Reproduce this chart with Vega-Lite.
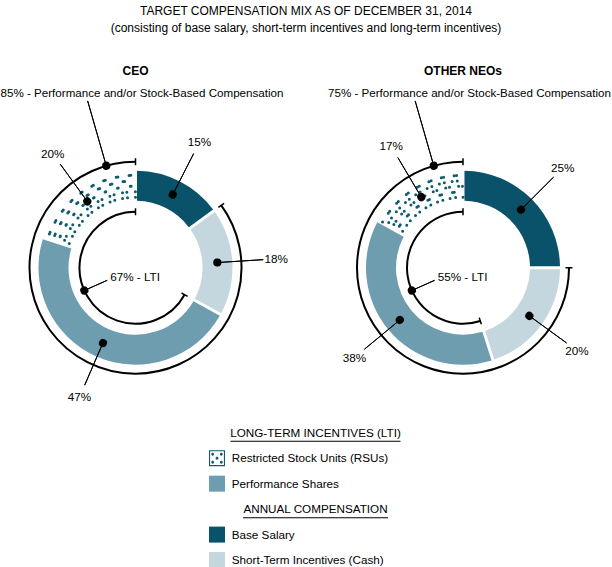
{
  "$schema": "https://vega.github.io/schema/vega-lite/v6.json",
  "padding": {"left": 0, "right": 0, "top": 5, "bottom": 0},
  "autosize": {"type": "pad"},
  "title": {
    "text": "TARGET COMPENSATION MIX AS OF DECEMBER 31, 2014",
    "subtitle": "(consisting of base salary, short-term incentives and long-term incentives)",
    "anchor": "middle",
    "offset": 30,
    "subtitlePadding": 5
  },
  "spacing": 0,
  "vconcat": [
    {
      "data": {
        "values": [
          {"chart": "CEO", "kind": "segment", "seq": 1, "category": "Base Salary", "share": 0.15},
          {"chart": "CEO", "kind": "segment", "seq": 2, "category": "Short-Term Incentives (Cash)", "share": 0.18},
          {"chart": "CEO", "kind": "segment", "seq": 3, "category": "Performance Shares", "share": 0.47},
          {"chart": "CEO", "kind": "segment", "seq": 4, "category": "Restricted Stock Units (RSUs)", "share": 0.20},
          {"chart": "OTHER NEOs", "kind": "segment", "seq": 1, "category": "Base Salary", "share": 0.25},
          {"chart": "OTHER NEOs", "kind": "segment", "seq": 2, "category": "Short-Term Incentives (Cash)", "share": 0.20},
          {"chart": "OTHER NEOs", "kind": "segment", "seq": 3, "category": "Performance Shares", "share": 0.38},
          {"chart": "OTHER NEOs", "kind": "segment", "seq": 4, "category": "Restricted Stock Units (RSUs)", "share": 0.17},
          {"chart": "CEO", "kind": "outer", "start": 0.15, "end": 1, "label": "85% - Performance and/or Stock-Based Compensation"},
          {"chart": "CEO", "kind": "inner", "start": 0.33, "end": 1, "label": "67% - LTI"},
          {"chart": "OTHER NEOs", "kind": "outer", "start": 0.25, "end": 1, "label": "75% - Performance and/or Stock-Based Compensation"},
          {"chart": "OTHER NEOs", "kind": "inner", "start": 0.45, "end": 1, "label": "55% - LTI"}
        ]
      },
      "facet": {"column": {"field": "chart", "type": "nominal", "header": null}},
      "spacing": 56.5,
      "bounds": "flush",
      "spec": {
        "width": 271,
        "height": 303.4,
        "layer": [
          {
            "transform": [{"filter": "datum.kind === 'segment'"}],
            "mark": {"type": "arc", "innerRadius": 67, "outerRadius": 97, "padAngle": 0.025},
            "encoding": {
              "theta": {"field": "share", "type": "quantitative", "stack": true, "scale": {"domain": [0, 1]}},
              "order": {"field": "seq", "type": "quantitative"},
              "color": {"field": "category", "type": "nominal", "legend": null,
                "scale": {"domain": ["Base Salary", "Short-Term Incentives (Cash)", "Performance Shares", "Restricted Stock Units (RSUs)"],
                          "range": ["#0a5269", "#c4d7de", "#6f9db0", "#ffffff"]}}
            }
          },
          {
            "transform": [{"filter": "datum.kind === 'segment'"}],
            "mark": {"type": "arc", "innerRadius": 70.5, "outerRadius": 70.5, "filled": false, "stroke": "#0e5a6e", "strokeWidth": 3, "strokeDash": [0, 13], "strokeDashOffset": 0, "strokeCap": "round"},
            "encoding": {
              "theta": {"field": "share", "type": "quantitative", "stack": true, "scale": {"domain": [0, 1]}},
              "order": {"field": "seq", "type": "quantitative"},
              "detail": {"field": "category", "type": "nominal"},
              "strokeOpacity": {"condition": {"test": "datum.category === 'Restricted Stock Units (RSUs)'", "value": 1}, "value": 0}
            }
          },
          {
            "transform": [{"filter": "datum.kind === 'segment'"}],
            "mark": {"type": "arc", "innerRadius": 76, "outerRadius": 76, "filled": false, "stroke": "#0e5a6e", "strokeWidth": 3, "strokeDash": [0, 13], "strokeDashOffset": 4.3, "strokeCap": "round"},
            "encoding": {
              "theta": {"field": "share", "type": "quantitative", "stack": true, "scale": {"domain": [0, 1]}},
              "order": {"field": "seq", "type": "quantitative"},
              "detail": {"field": "category", "type": "nominal"},
              "strokeOpacity": {"condition": {"test": "datum.category === 'Restricted Stock Units (RSUs)'", "value": 1}, "value": 0}
            }
          },
          {
            "transform": [{"filter": "datum.kind === 'segment'"}],
            "mark": {"type": "arc", "innerRadius": 81.5, "outerRadius": 81.5, "filled": false, "stroke": "#0e5a6e", "strokeWidth": 3, "strokeDash": [0, 13], "strokeDashOffset": 8.6, "strokeCap": "round"},
            "encoding": {
              "theta": {"field": "share", "type": "quantitative", "stack": true, "scale": {"domain": [0, 1]}},
              "order": {"field": "seq", "type": "quantitative"},
              "detail": {"field": "category", "type": "nominal"},
              "strokeOpacity": {"condition": {"test": "datum.category === 'Restricted Stock Units (RSUs)'", "value": 1}, "value": 0}
            }
          },
          {
            "transform": [{"filter": "datum.kind === 'segment'"}],
            "mark": {"type": "arc", "innerRadius": 87, "outerRadius": 87, "filled": false, "stroke": "#0e5a6e", "strokeWidth": 3, "strokeDash": [0, 13], "strokeDashOffset": 2.1, "strokeCap": "round"},
            "encoding": {
              "theta": {"field": "share", "type": "quantitative", "stack": true, "scale": {"domain": [0, 1]}},
              "order": {"field": "seq", "type": "quantitative"},
              "detail": {"field": "category", "type": "nominal"},
              "strokeOpacity": {"condition": {"test": "datum.category === 'Restricted Stock Units (RSUs)'", "value": 1}, "value": 0}
            }
          },
          {
            "transform": [{"filter": "datum.kind === 'segment'"}],
            "mark": {"type": "arc", "innerRadius": 92.5, "outerRadius": 92.5, "filled": false, "stroke": "#0e5a6e", "strokeWidth": 3, "strokeDash": [0, 13], "strokeDashOffset": 6.5, "strokeCap": "round"},
            "encoding": {
              "theta": {"field": "share", "type": "quantitative", "stack": true, "scale": {"domain": [0, 1]}},
              "order": {"field": "seq", "type": "quantitative"},
              "detail": {"field": "category", "type": "nominal"},
              "strokeOpacity": {"condition": {"test": "datum.category === 'Restricted Stock Units (RSUs)'", "value": 1}, "value": 0}
            }
          },
          {
            "transform": [{"filter": "datum.kind === 'outer'"}],
            "mark": {"type": "arc", "innerRadius": 106, "outerRadius": 106, "filled": false, "stroke": "black", "strokeWidth": 2},
            "encoding": {
              "theta": {"field": "start", "type": "quantitative", "stack": null, "scale": {"domain": [0, 1]}},
              "theta2": {"field": "end"}
            }
          },
          {
            "transform": [{"filter": "datum.kind === 'outer'"}],
            "mark": {"type": "arc", "innerRadius": 102.5, "outerRadius": 109.5, "filled": false, "stroke": "black", "strokeWidth": 1.5},
            "encoding": {
              "theta": {"field": "start", "type": "quantitative", "stack": null, "scale": {"domain": [0, 1]}},
              "theta2": {"field": "start"}
            }
          },
          {
            "transform": [{"filter": "datum.kind === 'outer'"}],
            "mark": {"type": "arc", "innerRadius": 102.5, "outerRadius": 109.5, "filled": false, "stroke": "black", "strokeWidth": 1.5},
            "encoding": {
              "theta": {"field": "end", "type": "quantitative", "stack": null, "scale": {"domain": [0, 1]}},
              "theta2": {"field": "end"}
            }
          },
          {
            "transform": [{"filter": "datum.kind === 'inner'"}],
            "mark": {"type": "arc", "innerRadius": 56, "outerRadius": 56, "filled": false, "stroke": "black", "strokeWidth": 2},
            "encoding": {
              "theta": {"field": "start", "type": "quantitative", "stack": null, "scale": {"domain": [0, 1]}},
              "theta2": {"field": "end"}
            }
          },
          {
            "transform": [{"filter": "datum.kind === 'inner'"}],
            "mark": {"type": "arc", "innerRadius": 52.5, "outerRadius": 59.5, "filled": false, "stroke": "black", "strokeWidth": 1.5},
            "encoding": {
              "theta": {"field": "start", "type": "quantitative", "stack": null, "scale": {"domain": [0, 1]}},
              "theta2": {"field": "start"}
            }
          },
          {
            "transform": [{"filter": "datum.kind === 'inner'"}],
            "mark": {"type": "arc", "innerRadius": 52.5, "outerRadius": 59.5, "filled": false, "stroke": "black", "strokeWidth": 1.5},
            "encoding": {
              "theta": {"field": "end", "type": "quantitative", "stack": null, "scale": {"domain": [0, 1]}},
              "theta2": {"field": "end"}
            }
          },
          {
            "transform": [{"filter": "datum.kind === 'segment'"}],
            "mark": {"type": "arc", "innerRadius": 82, "outerRadius": 128, "padAngle": 3, "filled": false, "stroke": "black", "strokeWidth": 1},
            "encoding": {
              "theta": {"field": "share", "type": "quantitative", "stack": true, "scale": {"domain": [0, 1]}},
              "order": {"field": "seq", "type": "quantitative"},
              "detail": {"field": "category", "type": "nominal"}
            }
          },
          {
            "transform": [{"filter": "datum.kind === 'segment'"}],
            "mark": {"type": "arc", "innerRadius": 81.9, "outerRadius": 82.1, "padAngle": 3, "filled": false, "stroke": "black", "strokeWidth": 8, "strokeCap": "round", "strokeJoin": "round"},
            "encoding": {
              "theta": {"field": "share", "type": "quantitative", "stack": true, "scale": {"domain": [0, 1]}},
              "order": {"field": "seq", "type": "quantitative"},
              "detail": {"field": "category", "type": "nominal"}
            }
          },
          {
            "transform": [{"filter": "datum.kind === 'segment'"}],
            "mark": {"type": "text", "radius": 141, "fontSize": 11.7, "color": "black"},
            "encoding": {
              "theta": {"field": "share", "type": "quantitative", "stack": true, "scale": {"domain": [0, 1]}},
              "order": {"field": "seq", "type": "quantitative"},
              "detail": {"field": "category", "type": "nominal"},
              "text": {"field": "share", "type": "quantitative", "format": ".0%"}
            }
          },
          {
            "transform": [{"filter": "datum.kind === 'outer'"}],
            "mark": {"type": "arc", "theta": 6.0039, "theta2": 6.0039, "innerRadius": 106, "outerRadius": 173.5, "filled": false, "stroke": "black", "strokeWidth": 1},
            "encoding": {}
          },
          {
            "transform": [{"filter": "datum.kind === 'outer'"}],
            "mark": {"type": "arc", "theta": 6.0039, "theta2": 6.0039, "innerRadius": 105.9, "outerRadius": 106.1, "filled": false, "stroke": "black", "strokeWidth": 8, "strokeCap": "round", "strokeJoin": "round"},
            "encoding": {}
          },
          {
            "transform": [{"filter": "datum.kind === 'inner'"}],
            "mark": {"type": "arc", "theta": 4.2935, "theta2": 4.2935, "innerRadius": 31, "outerRadius": 56, "filled": false, "stroke": "black", "strokeWidth": 1},
            "encoding": {}
          },
          {
            "transform": [{"filter": "datum.kind === 'inner'"}],
            "mark": {"type": "arc", "theta": 4.2935, "theta2": 4.2935, "innerRadius": 55.9, "outerRadius": 56.1, "filled": false, "stroke": "black", "strokeWidth": 8, "strokeCap": "round", "strokeJoin": "round"},
            "encoding": {}
          },
          {
            "transform": [{"filter": "datum.kind === 'outer'"}],
            "mark": {"type": "text", "theta": 0, "radius": 173.3, "dx": 6.5, "align": "center", "baseline": "middle", "fontSize": 11.6, "color": "black"},
            "encoding": {"text": {"field": "label", "type": "nominal"}}
          },
          {
            "transform": [{"filter": "datum.kind === 'inner'"}],
            "mark": {"type": "text", "theta": 4.2935, "radius": 31, "dx": 3, "dy": -3, "align": "left", "baseline": "middle", "fontSize": 11.7, "color": "black"},
            "encoding": {"text": {"field": "label", "type": "nominal"}}
          },
          {
            "transform": [{"filter": "datum.kind === 'outer'"}],
            "mark": {"type": "text", "theta": 0, "radius": 196.3, "align": "center", "baseline": "middle", "fontSize": 12, "fontWeight": "bold", "color": "black"},
            "encoding": {"text": {"field": "chart", "type": "nominal"}}
          }
        ]
      }
    },
    {
      "width": 612,
      "height": 152.8,
      "data": {
        "values": [
          {"item": "LONG-TERM INCENTIVES (LTI)", "kind": "head"},
          {"item": "Restricted Stock Units (RSUs)", "kind": "entry"},
          {"item": "Performance Shares", "kind": "entry"},
          {"item": "ANNUAL COMPENSATION", "kind": "head"},
          {"item": "Base Salary", "kind": "entry"},
          {"item": "Short-Term Incentives (Cash)", "kind": "entry"}
        ]
      },
      "encoding": {
        "y": {"field": "item", "type": "nominal", "axis": null,
              "scale": {"type": "point", "padding": 0.5},
              "sort": ["LONG-TERM INCENTIVES (LTI)", "Restricted Stock Units (RSUs)", "Performance Shares", "ANNUAL COMPENSATION", "Base Salary", "Short-Term Incentives (Cash)"]}
      },
      "layer": [
        {
          "transform": [{"filter": "datum.kind === 'entry'"}],
          "mark": {"type": "point", "shape": "square", "size": 256, "filled": true, "opacity": 1, "strokeWidth": 0, "xOffset": -89},
          "encoding": {
            "color": {"field": "item", "type": "nominal", "legend": null,
              "scale": {"domain": ["Base Salary", "Short-Term Incentives (Cash)", "Performance Shares", "Restricted Stock Units (RSUs)"],
                        "range": ["#0a5269", "#c4d7de", "#6f9db0", "#ffffff"]}}
          }
        },
        {
          "transform": [{"filter": "datum.item === 'Restricted Stock Units (RSUs)'"}],
          "mark": {"type": "point", "size": 256, "filled": true, "opacity": 1, "strokeWidth": 0, "color": "#0e5a6e", "xOffset": -89,
            "shape": "M-1,-1H1V1H-1Z M-0.86,-0.86V0.86H0.86V-0.86Z M-0.72,-0.5a0.18,0.18 0 1,0 0.36,0a0.18,0.18 0 1,0 -0.36,0Z M0.36,-0.5a0.18,0.18 0 1,0 0.36,0a0.18,0.18 0 1,0 -0.36,0Z M-0.18,0a0.18,0.18 0 1,0 0.36,0a0.18,0.18 0 1,0 -0.36,0Z M-0.72,0.5a0.18,0.18 0 1,0 0.36,0a0.18,0.18 0 1,0 -0.36,0Z M0.36,0.5a0.18,0.18 0 1,0 0.36,0a0.18,0.18 0 1,0 -0.36,0Z"},
          "encoding": {}
        },
        {
          "transform": [{"filter": "datum.kind === 'entry'"}],
          "mark": {"type": "text", "align": "left", "baseline": "middle", "dx": -74.3, "fontSize": 11.7, "color": "black"},
          "encoding": {"text": {"field": "item", "type": "nominal"}}
        },
        {
          "transform": [{"filter": "datum.kind === 'head'"}],
          "mark": {"type": "text", "align": "center", "baseline": "middle", "dx": 9.5, "fontSize": 11.7, "color": "black"},
          "encoding": {"text": {"field": "item", "type": "nominal"}}
        },
        {
          "transform": [{"filter": "datum.item === 'LONG-TERM INCENTIVES (LTI)'"}],
          "mark": {"type": "tick", "orient": "horizontal", "size": 170, "thickness": 1, "color": "black", "opacity": 1, "xOffset": 9.5, "yOffset": 8.5},
          "encoding": {}
        },
        {
          "transform": [{"filter": "datum.item === 'ANNUAL COMPENSATION'"}],
          "mark": {"type": "tick", "orient": "horizontal", "size": 145, "thickness": 1, "color": "black", "opacity": 1, "xOffset": 9.5, "yOffset": 8.5},
          "encoding": {}
        }
      ]
    }
  ],
  "config": {
    "view": {"stroke": null},
    "font": "Liberation Sans",
    "text": {"font": "Liberation Sans"},
    "title": {"font": "Liberation Sans", "fontSize": 12, "fontWeight": "normal", "color": "black",
              "subtitleFont": "Liberation Sans", "subtitleFontSize": 12, "subtitleColor": "black"}
  }
}
